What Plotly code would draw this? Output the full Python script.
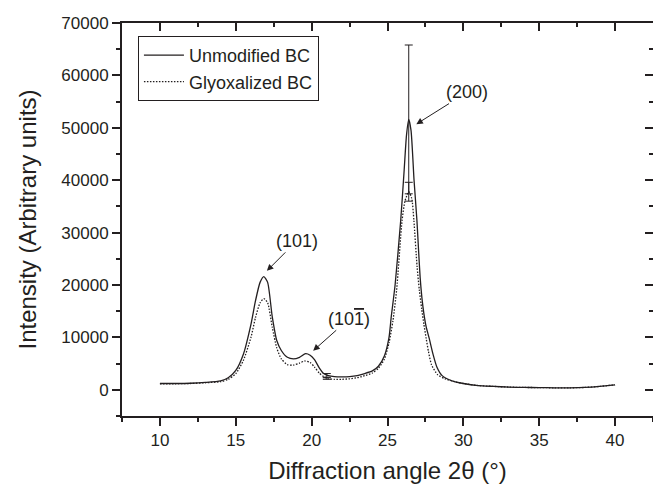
import plotly.graph_objects as go

# ---- data ----
angle_unmod = [10, 11, 12, 13, 14, 14.5, 15, 15.5, 16, 16.3, 16.6, 16.85, 17.1, 17.4, 17.7,
               18.0, 18.4, 18.8, 19.2, 19.6, 19.9, 20.2, 20.5, 20.8, 21.1, 21.5, 22, 22.5,
               23, 23.5, 24, 24.4, 24.8, 25.1, 25.25, 25.5, 25.87, 26.1, 26.25, 26.4, 26.55,
               26.75, 26.94, 27.05, 27.15, 27.27, 27.4, 27.55, 27.75, 28.0, 28.26, 28.6, 29.25,
               30, 31, 32, 33, 34, 35, 36, 37, 38, 39, 40]
intensity_unmod = [1200, 1200, 1250, 1400, 1700, 2300, 3700, 6800, 12500, 17000, 20500, 21600,
                   20500, 14000, 9400, 7500, 6200, 5900, 6200, 6900, 6600, 5700, 4200, 3100,
                   2700, 2500, 2450, 2500, 2700, 3100, 3600, 4500, 6500, 10000, 14000, 20000,
                   32300, 42000, 48500, 51600, 49500, 40000, 32300, 26500, 21500, 17500, 14500,
                   12000, 9800, 6800, 4300, 2700, 1700, 1200, 800, 650, 520, 450, 420, 380, 380,
                   450, 650, 950]

angle_glyox = [10, 11, 12, 13, 14, 14.5, 15, 15.5, 16, 16.3, 16.6, 16.85, 17.1, 17.4, 17.7,
               18.0, 18.4, 18.8, 19.2, 19.55, 19.9, 20.2, 20.5, 20.8, 21.1, 21.5, 22, 22.5,
               23, 23.5, 24, 24.4, 24.8, 25.1, 25.36, 25.6, 25.96, 26.15, 26.4, 26.6, 26.74,
               26.95, 27.1, 27.25, 27.4, 27.55, 27.7, 27.9, 28.3, 28.8, 29.5, 30, 31, 32, 33,
               34, 35, 36, 37, 38, 39, 40]
intensity_glyox = [1150, 1150, 1200, 1350, 1550, 2000, 3100, 5600, 10000, 13800, 16600, 17400,
                   16600, 12000, 8000, 5900, 4800, 4700, 5100, 5500, 5200, 4300, 3200, 2500,
                   2100, 2000, 2000, 2100, 2300, 2700, 3200, 4100, 5900, 9000, 13200, 19000,
                   32300, 36000, 37800, 36500, 32300, 23500, 19000, 15500, 12500, 9800, 7300,
                   4800, 2900, 2100, 1500, 1200, 800, 650, 520, 450, 420, 380, 380, 450, 650, 950]

err_angle = [21.0, 26.4]
err_unmod_val = [2700, 51600]
err_unmod = [400, 14200]
err_glyox_val = [2200, 37800]
err_glyox = [200, 1800]

x_ticks = [10, 15, 20, 25, 30, 35, 40]
y_ticks = [0, 10000, 20000, 30000, 40000, 50000, 60000, 70000]
y_tick_labels = ["0", "10000", "20000", "30000", "40000", "50000", "60000", "70000"]

peak_labels = ["(101)", "(10<span style='text-decoration:overline'>1</span>)", "(200)"]
peak_x = [17.05, 20.1, 26.9]
peak_y = [22700, 7450, 50700]

# ---- styling ----
INK = "#231f20"
FONT = "Liberation Sans, Arial, sans-serif"
x_range = [7.5, 42.5]
y_range = [-5000, 70000]

fig = go.Figure()
fig.add_trace(go.Scatter(x=angle_unmod, y=intensity_unmod, mode="lines",
                         name="Unmodified BC", line=dict(color=INK, width=1.3, shape="spline", smoothing=0.6)))
fig.add_trace(go.Scatter(x=angle_glyox, y=intensity_glyox, mode="lines",
                         name="Glyoxalized BC", line=dict(color=INK, width=1.3, dash="1.5px,1.5px", shape="spline", smoothing=0.6)))
fig.add_trace(go.Scatter(x=err_angle, y=err_unmod_val, mode="markers", showlegend=False,
                         marker=dict(size=1, color="rgba(0,0,0,0)"), hoverinfo="skip",
                         error_y=dict(type="data", array=err_unmod, color=INK, thickness=1, width=4)))
fig.add_trace(go.Scatter(x=err_angle, y=err_glyox_val, mode="markers", showlegend=False,
                         marker=dict(size=1, color="rgba(0,0,0,0)"), hoverinfo="skip",
                         error_y=dict(type="data", array=err_glyox, color=INK, thickness=1, width=4)))
# invisible traces to activate mirrored axes
fig.add_trace(go.Scatter(x=[None], y=[None], xaxis="x2", yaxis="y", showlegend=False, hoverinfo="skip"))
fig.add_trace(go.Scatter(x=[None], y=[None], xaxis="x", yaxis="y2", showlegend=False, hoverinfo="skip"))

offsets = [(30, -30), (36, -32), (51, -32)]
for lab, px, py, (ax, ay) in zip(peak_labels, peak_x, peak_y, offsets):
    fig.add_annotation(x=px, y=py, text=lab, showarrow=True, ax=ax, ay=ay,
                       arrowhead=2, arrowsize=1.3, arrowwidth=1, arrowcolor=INK,
                       font=dict(family=FONT, size=18, color=INK))

fig.update_layout(
    width=653, height=484,
    margin=dict(l=122, r=0, t=23, b=68),
    paper_bgcolor="white", plot_bgcolor="white",
    font=dict(family=FONT, color=INK),
    xaxis=dict(range=x_range, tickvals=x_ticks, ticks="outside", ticklen=8, tickwidth=1.5,
               tickcolor=INK, showline=True, linecolor=INK, linewidth=2, showgrid=False,
               zeroline=False, tickfont=dict(size=17, color=INK),
               minor=dict(dtick=2.5, tick0=0, ticks="outside", ticklen=4, tickwidth=1.5, tickcolor=INK, showgrid=False),
               title=dict(text="Diffraction angle 2θ (°)", font=dict(size=24, color=INK), standoff=14)),
    yaxis=dict(range=y_range, tickvals=y_ticks, ticktext=y_tick_labels, ticks="outside", ticklen=8, tickwidth=1.5,
               tickcolor=INK, showline=True, linecolor=INK, linewidth=2, showgrid=False,
               zeroline=False, tickfont=dict(size=17, color=INK),
               minor=dict(dtick=5000, tick0=0, ticks="outside", ticklen=4, tickwidth=1.5, tickcolor=INK, showgrid=False),
               title=dict(text="Intensity (Arbitrary units)", font=dict(size=24, color=INK), standoff=18)),
    xaxis2=dict(range=x_range, overlaying="x", side="top", anchor="y", tickvals=x_ticks,
                ticks="inside", ticklen=8, tickwidth=1.5, tickcolor=INK, showticklabels=False,
                showline=True, linecolor=INK, linewidth=2, showgrid=False, zeroline=False,
                minor=dict(dtick=2.5, tick0=0, ticks="inside", ticklen=4, tickwidth=1.5, tickcolor=INK, showgrid=False)),
    yaxis2=dict(range=y_range, overlaying="y", side="right", anchor="x", tickvals=y_ticks,
                ticks="inside", ticklen=8, tickwidth=1.5, tickcolor=INK, showticklabels=False,
                showline=False, showgrid=False, zeroline=False,
                minor=dict(dtick=5000, tick0=0, ticks="inside", ticklen=4, tickwidth=1.5, tickcolor=INK, showgrid=False)),
    legend=dict(x=0.03, y=0.967, xanchor="left", yanchor="top", bordercolor=INK, borderwidth=1,
                bgcolor="white", font=dict(size=18, color=INK), tracegroupgap=0, itemwidth=40),
    showlegend=True,
)

fig.write_html("out.html")
